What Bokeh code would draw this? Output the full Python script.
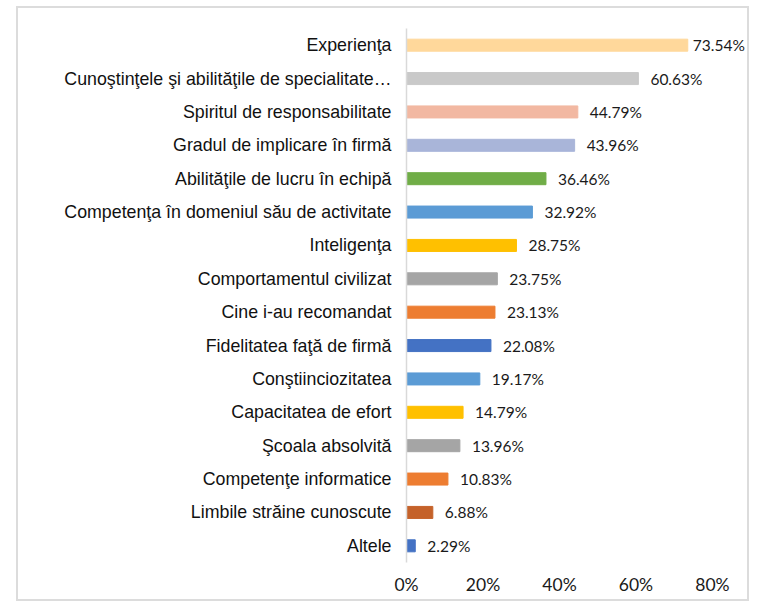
from bokeh.plotting import figure
from bokeh.models import FactorRange, Range1d, FixedTicker, PrintfTickFormatter, ColumnDataSource, LabelSet
from bokeh.core.properties import value
from bokeh.embed import file_html
from bokeh.resources import INLINE

categories = [
    "Experienţa",
    "Cunoştinţele şi abilităţile de specialitate…",
    "Spiritul de responsabilitate",
    "Gradul de implicare în firmă",
    "Abilităţile de lucru în echipă",
    "Competenţa în domeniul său de activitate",
    "Inteligenţa",
    "Comportamentul civilizat",
    "Cine i-au recomandat",
    "Fidelitatea faţă de firmă",
    "Conştiinciozitatea",
    "Capacitatea de efort",
    "Şcoala absolvită",
    "Competenţe informatice",
    "Limbile străine cunoscute",
    "Altele",
]
values = [73.54, 60.63, 44.79, 43.96, 36.46, 32.92, 28.75, 23.75, 23.13, 22.08,
          19.17, 14.79, 13.96, 10.83, 6.88, 2.29]
colors = ["#FFD89B", "#C9C9C9", "#F2B8A2", "#A9B5D9", "#70AD47", "#5B9BD5",
          "#FFC000", "#A5A5A5", "#ED7D31", "#4472C4", "#5B9BD5", "#FFC000",
          "#A5A5A5", "#ED7D31", "#C5622A", "#4472C4"]
x_ticks = [0, 20, 40, 60, 80]

labels = [f"{v:.2f}%" for v in values]
# the longest bar's label sits closer to its bar (as in the original) so it fits
offsets = [5 if v == max(values) else 12 for v in values]
src = ColumnDataSource(dict(cat=categories, val=values, col=colors, lab=labels, off=offsets))

p = figure(
    width=733, height=595,
    y_range=FactorRange(factors=list(reversed(categories))),
    x_range=Range1d(0, 90.2),
    output_backend="svg", toolbar_location=None,
    min_border_left=388, min_border_right=0, min_border_top=20, min_border_bottom=41,
)
p.margin = (6, 0, 0, 16)
p.styles = {"border": "2px solid #DCDCDC"}

p.hbar(y="cat", right="val", left=0, height=0.36, color="col", source=src)
value_labels = LabelSet(x="val", y="cat", text="lab", source=src, x_offset="off",
                        text_baseline="middle", text_align="left",
                        text_font=value("Lato"), text_font_size="15.5px",
                        text_color="#1a1a1a")
p.add_layout(value_labels)

p.outline_line_color = None
p.xgrid.grid_line_color = None
p.ygrid.grid_line_color = None

p.xaxis.ticker = FixedTicker(ticks=x_ticks)
p.xaxis.formatter = PrintfTickFormatter(format="%d%%")
p.xaxis.axis_line_color = None
p.xaxis.major_tick_line_color = None
p.xaxis.minor_tick_line_color = None
p.xaxis.major_label_text_font = "Lato"
p.xaxis.major_label_text_font_size = "17.5px"
p.xaxis.major_label_text_color = "#1a1a1a"
p.xaxis.major_label_standoff = 5

p.yaxis.axis_line_color = "#D9D9D9"
p.yaxis.axis_line_width = 1.5
p.yaxis.major_tick_line_color = None
p.yaxis.minor_tick_line_color = None
p.yaxis.major_label_text_font = "Liberation Sans"
p.yaxis.major_label_text_font_size = "17.8px"
p.yaxis.major_label_text_color = "#111111"
p.yaxis.major_label_standoff = 9

open("out.html", "w").write(file_html(p, INLINE))
